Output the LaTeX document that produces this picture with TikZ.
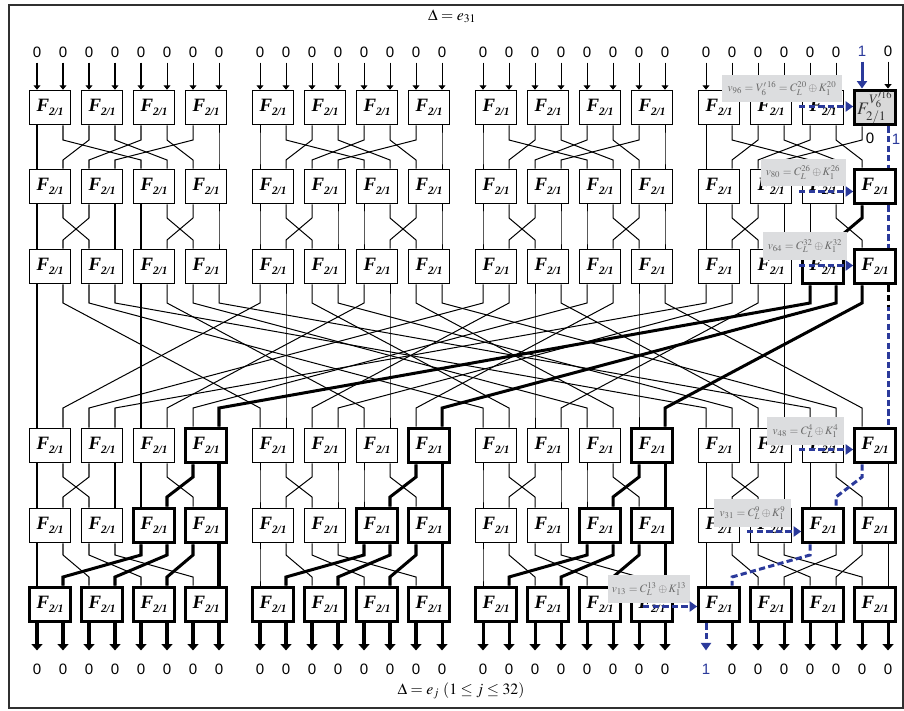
\documentclass[tikz,border=0pt]{standalone}
\usepackage{mathptmx}
\usepackage{fontspec}
\setmainfont{Liberation Serif}
\setsansfont{Liberation Sans}
\usetikzlibrary{positioning,arrows.meta,calc}
\definecolor{pathblue}{HTML}{2B3A9B}
\definecolor{lblgray}{HTML}{DCDDDF}
\definecolor{lbltext}{HTML}{6A6A6A}
\definecolor{vboxgray}{HTML}{D9D9D9}
\definecolor{framegray}{HTML}{303030}

\newcommand{\Ftwo}{\textbf{\textit{F}}\raisebox{-0.45ex}{\fontsize{9}{9}\selectfont\textbf{\textit{2/1}}}}
% wire from row #2 (out port #3) to the next row (in port #4)
\newcommand{\link}[4][wire]{%
  \pgfmathtruncatemacro\rnext{#2+1}%
  \ifcase#2\or\def\ya{140}\def\yb{160}\or\def\ya{218}\def\yb{240}\or\def\ya{303}\def\yb{408}\or\def\ya{477}\def\yb{497}\or\def\ya{555}\def\yb{577}\fi
  \draw[#1] (o#2k#3) -- (o#2k#3 |- 0,\ya) -- (i\rnext k#4 |- 0,\yb) -- (i\rnext k#4);}

\begin{document}
\begin{tikzpicture}[x=0.028cm, y=-0.028cm,
    fbox/.style={draw, line width=0.75pt, fill=white, minimum width=1.13cm, minimum height=0.97cm, inner sep=0pt, font=\fontsize{15}{15}\selectfont},
    fboxb/.style={fbox, line width=2.6pt},
    fboxv/.style={fboxb, fill=vboxgray, text=black!80, font=\fontsize{14}{14}\selectfont},
    wire/.style={line width=0.8pt},
    wireb/.style={line width=2.4pt},
    bluewire/.style={draw=pathblue, line width=2.4pt, dash pattern=on 5pt off 2.6pt},
    bluearrow/.style={bluewire, -{Triangle[length=6pt,width=8pt]}},
    bluein/.style={draw=pathblue, line width=2.4pt, -{Triangle[length=6pt,width=8pt]}},
    inarrow/.style={line width=0.8pt, -{Triangle[length=3.5pt,width=5.5pt]}},
    outarrow/.style={line width=2.4pt, -{Triangle[length=5pt,width=8.5pt]}},
    digit/.style={font=\sffamily\fontsize{12}{13}\selectfont, inner sep=1pt},
    vlbl/.style={fill=lblgray, text=lbltext, inner sep=1pt, minimum height=0.78cm, font=\fontsize{9}{10}\selectfont},
    title/.style={font=\fontsize{12.5}{14}\selectfont, inner sep=1pt},
]
\useasboundingbox (0,0) rectangle (904,710);
\draw[framegray, line width=1.8pt] (9,5) rectangle (903,708);

% F boxes, six rows of sixteen
\foreach \row/\y/\bold in {1/107.5/{15},2/186.5/{15},3/266.5/{14,15},4/445.5/{3,7,11,15},5/525.5/{2,3,6,7,10,11,14,15},6/604.5/{0,...,15}} {
  \foreach \bi in {0,...,15} {
    \pgfmathsetmacro\bx{50+223*int(\bi/4)+52*mod(\bi,4)}
    \gdef\bst{fbox}\gdef\btxt{\Ftwo}
    \foreach \tb in \bold {\ifnum\tb=\bi\gdef\bst{fboxb}\fi}
    \ifnum\row=1 \ifnum\bi=15 \gdef\bst{fboxv}\gdef\btxt{$F^{V'^{16}_{6}}_{2/1}$}\fi\fi
    \node[\bst] (f\row-\bi) at (\bx,\y) {\btxt};
  }
}

% ports
\foreach \row in {1,...,6} {
  \foreach \bi in {0,...,15} {
    \pgfmathtruncatemacro\pl{2*\bi}
    \pgfmathtruncatemacro\pr{2*\bi+1}
    \coordinate (i\row k\pl) at ($(f\row-\bi.north)+(-13,0)$);
    \coordinate (i\row k\pr) at ($(f\row-\bi.north)+(13,0)$);
    \coordinate (o\row k\pl) at ($(f\row-\bi.south)+(-13,0)$);
    \coordinate (o\row k\pr) at ($(f\row-\bi.south)+(13,0)$);
  }
}

% thin wires
\foreach \ra/\sk in {1/31,2/31,3/31,4/30,5/28} {
  \foreach \kk in {0,...,31} {
    \pgfmathtruncatemacro\grp{8*int(\kk/8)}
    \pgfmathtruncatemacro\pos{mod(\kk,8)}
    \ifcase\ra\or
      \pgfmathtruncatemacro\tgt{\grp+{0,4,1,5,2,6,3,7}[\pos]}\or
      \pgfmathtruncatemacro\tgt{\grp+{0,2,1,3,4,6,5,7}[\pos]}\or
      \pgfmathtruncatemacro\tgt{mod(int(\kk/8),2)+2*int(\kk/16)+4*mod(int(\kk/4),2)+8*mod(\kk,2)+16*mod(int(\kk/2),2)}\or
      \pgfmathtruncatemacro\tgt{\grp+{0,2,1,3,4,6,5,7}[\pos]}\or
      \pgfmathtruncatemacro\tgt{\grp+{0,2,4,6,1,3,5,7}[\pos]}\fi
    \ifnum\kk=\sk\else\link{\ra}{\kk}{\tgt}\fi
  }
}

% thick wires
\link[wireb]{2}{30}{29}
\foreach \kk/\tgt in {28/7,29/15,30/23} {\link[wireb]{3}{\kk}{\tgt}}
\foreach \kk/\tgt in {6/5,7/7,14/13,15/15,22/21,23/23} {\link[wireb]{4}{\kk}{\tgt}}
\foreach \kk/\tgt in {4/1,5/3,6/5,7/7,12/9,13/11,14/13,15/15,20/17,21/19,22/21,23/23} {\link[wireb]{5}{\kk}{\tgt}}

% active path
\link[bluewire]{1}{31}{31}
\link[bluewire]{2}{31}{31}
\link[bluewire]{3}{31}{31}
\link[bluewire]{4}{30}{29}
\link[bluewire]{5}{28}{25}
\coordinate (stub) at ($(o3k31)+(0,22)$);
\draw[line width=2.4pt, dash pattern=on 5pt off 2.6pt] (o3k31) -- (stub);

% inputs and outputs
\foreach \kk in {0,...,31} {
  \coordinate (ta\kk) at ($(i1k\kk)+(0,-27)$);
  \coordinate (ba\kk) at ($(o6k\kk)+(0,27)$);
}
\foreach \kk in {0,...,29,31} {
  \node[digit] (tl\kk) at ($(ta\kk)+(0,-10)$) {0};
  \draw[inarrow] (ta\kk) -- (i1k\kk);
}
\node[digit, text=pathblue] (tl30) at ($(ta30)+(0,-10)$) {1};
\draw[bluein] (ta30) -- (i1k30);
\foreach \kk in {0,...,23,25,26,...,31} {
  \draw[outarrow] (o6k\kk) -- (ba\kk);
  \node[digit] (bl\kk) at ($(ba\kk)+(0,19)$) {0};
}
\draw[bluearrow] (o6k24) -- (ba24);
\node[digit, text=pathblue] (bl24) at ($(ba24)+(0,19)$) {1};
\node[digit] (z30) at ($(o1k30)+(8,12)$) {0};
\node[digit, text=pathblue] (z31) at ($(o1k31)+(8,13)$) {1};

% differences
\node[title] (dtop) at (452,16) {$\Delta = e_{31}$};
\node[title] (dbot) at (461,691) {$\Delta = e_j\ (1 \le j \le 32)$};

% known values
\node[vlbl, minimum width=3.36cm] (v96) at (782,88.5) {$v_{96}=V'^{\,16}_{6}=C_L^{20}\oplus K_1^{20}$};
\node[vlbl, minimum width=2.38cm] (v80) at (803,172.5) {$v_{80}=C_L^{26}\oplus K_1^{26}$};
\node[vlbl, minimum width=2.35cm] (v64) at (805,246) {$v_{64}=C_L^{32}\oplus K_1^{32}$};
\node[vlbl, minimum width=2.16cm] (v48) at (805.5,431) {$v_{48}=C_L^{4}\oplus K_1^{4}$};
\node[vlbl, minimum width=2.16cm] (v31) at (752.5,513) {$v_{31}=C_L^{9}\oplus K_1^{9}$};
\node[vlbl, minimum width=2.30cm] (v13) at (649,589) {$v_{13}=C_L^{13}\oplus K_1^{13}$};

\foreach \row/\tb/\dy in {1/15/-1,2/15/5,3/15/-1,4/15/4,5/14/6,6/12/2} {
  \coordinate (s\row) at ($(f\row-\tb.west)+(-54,\dy)$);
  \draw[bluearrow] (s\row) -- (s\row -| f\row-\tb.west);
}

\end{tikzpicture}
\end{document}
